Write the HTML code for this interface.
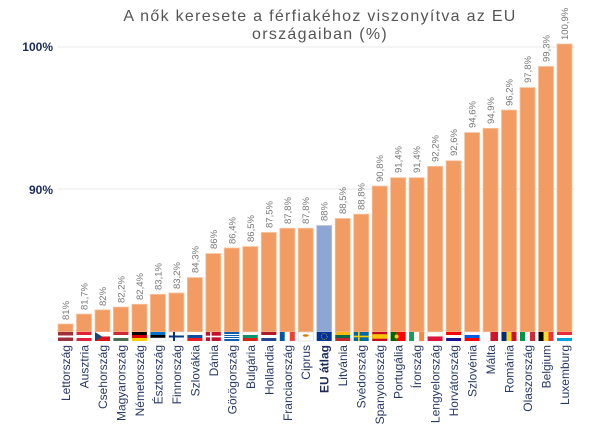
<!DOCTYPE html>
<html><head><meta charset="utf-8"><style>
html,body{margin:0;padding:0;background:#fff;}
svg{display:block;font-family:"Liberation Sans",sans-serif;}
.v{font-size:9.5px;fill:#777;}
.c{font-size:12px;fill:#2a3a66;}
</style></head><body>
<svg width="605" height="426" viewBox="0 0 605 426">
<text x="320" y="21" text-anchor="middle" font-size="16" fill="#555" letter-spacing="1.3">A nők keresete a férfiakéhoz viszonyítva az EU</text>
<text x="320" y="39" text-anchor="middle" font-size="16" fill="#555" letter-spacing="1.3">országaiban (%)</text>
<line x1="58" y1="47" x2="575" y2="47" stroke="#e8e8e8"/>
<line x1="58" y1="189" x2="575" y2="189" stroke="#e8e8e8"/>
<text x="53" y="51" text-anchor="end" font-size="12" font-weight="bold" fill="#1b2a5a">100%</text>
<text x="53" y="194" text-anchor="end" font-size="12" font-weight="bold" fill="#1b2a5a">90%</text>
<g fill="#f29b63" stroke="#f7c09a" stroke-width="0.8">
<rect x="58" y="324" width="15" height="8"/>
<rect x="76.5" y="314.1" width="15" height="17.9"/>
<rect x="95" y="309.9" width="15" height="22.1"/>
<rect x="113.4" y="307.1" width="15" height="24.9"/>
<rect x="131.9" y="304.3" width="15" height="27.7"/>
<rect x="150.4" y="294.4" width="15" height="37.6"/>
<rect x="168.9" y="293" width="15" height="39"/>
<rect x="187.4" y="277.6" width="15" height="54.4"/>
<rect x="205.8" y="253.6" width="15" height="78.4"/>
<rect x="224.3" y="248" width="15" height="84"/>
<rect x="242.8" y="246.6" width="15" height="85.4"/>
<rect x="261.3" y="232.5" width="15" height="99.5"/>
<rect x="279.8" y="228.3" width="15" height="103.7"/>
<rect x="298.2" y="228.3" width="15" height="103.7"/>
<rect x="316.7" y="225.5" width="15" height="106.5" fill="#8ea6d3" stroke="#b7c7e4"/>
<rect x="335.2" y="218.5" width="15" height="113.5"/>
<rect x="353.7" y="214.2" width="15" height="117.8"/>
<rect x="372.2" y="186.1" width="15" height="145.9"/>
<rect x="390.6" y="177.7" width="15" height="154.3"/>
<rect x="409.1" y="177.7" width="15" height="154.3"/>
<rect x="427.6" y="166.4" width="15" height="165.6"/>
<rect x="446.1" y="160.8" width="15" height="171.2"/>
<rect x="464.6" y="132.6" width="15" height="199.4"/>
<rect x="483" y="128.4" width="15" height="203.6"/>
<rect x="501.5" y="110.1" width="15" height="221.9"/>
<rect x="520" y="87.6" width="15" height="244.4"/>
<rect x="538.5" y="66.5" width="15" height="265.5"/>
<rect x="557" y="44" width="15" height="288"/>
</g>
<g>
<rect x="58" y="332" width="15" height="9" fill="#9e3039"/><rect x="58" y="335.5" width="15" height="2" fill="#fff"/>
<rect x="76.5" y="332" width="15" height="9" fill="#e0223a"/><rect x="76.5" y="335" width="15" height="3" fill="#fff"/>
<rect x="95" y="332" width="15" height="4.5" fill="#fff"/><rect x="95" y="336.5" width="15" height="4.5" fill="#d7141a"/><polygon points="95,332 102,336.5 95,341" fill="#11457e"/>
<rect x="113.4" y="332" width="15" height="3" fill="#ce2939"/><rect x="113.4" y="335" width="15" height="3" fill="#fff"/><rect x="113.4" y="338" width="15" height="3" fill="#477050"/>
<rect x="131.9" y="332" width="15" height="3" fill="#000"/><rect x="131.9" y="335" width="15" height="3" fill="#dd0000"/><rect x="131.9" y="338" width="15" height="3" fill="#ffce00"/>
<rect x="150.4" y="332" width="15" height="3" fill="#0072ce"/><rect x="150.4" y="335" width="15" height="3" fill="#000"/><rect x="150.4" y="338" width="15" height="3" fill="#fff" stroke="#ddd" stroke-width=".5"/>
<rect x="168.9" y="332" width="15" height="9" fill="#fff" stroke="#ddd" stroke-width=".5"/><rect x="168.9" y="335.5" width="15" height="2" fill="#003580"/><rect x="173" y="332" width="2" height="9" fill="#003580"/>
<rect x="187.4" y="332" width="15" height="3" fill="#fff"/><rect x="187.4" y="335" width="15" height="3" fill="#0b4ea2"/><rect x="187.4" y="338" width="15" height="3" fill="#ee1c25"/>
<rect x="205.8" y="332" width="15" height="9" fill="#c8102e"/><rect x="205.8" y="335.7" width="15" height="1.6" fill="#fff"/><rect x="210" y="332" width="1.6" height="9" fill="#fff"/>
<rect x="224.3" y="332" width="15" height="9" fill="#0d5eaf"/><rect x="224.3" y="334" width="15" height="1" fill="#fff"/><rect x="224.3" y="336" width="15" height="1" fill="#fff"/><rect x="224.3" y="338" width="15" height="1" fill="#fff"/>
<rect x="242.8" y="332" width="15" height="3" fill="#fff" stroke="#ddd" stroke-width=".5"/><rect x="242.8" y="335" width="15" height="3" fill="#00966e"/><rect x="242.8" y="338" width="15" height="3" fill="#d62612"/>
<rect x="261.3" y="332" width="15" height="3" fill="#ae1c28"/><rect x="261.3" y="335" width="15" height="3" fill="#fff"/><rect x="261.3" y="338" width="15" height="3" fill="#21468b"/>
<rect x="279.8" y="332" width="5" height="9" fill="#0055a4"/><rect x="284.8" y="332" width="5" height="9" fill="#fff"/><rect x="289.8" y="332" width="5" height="9" fill="#ef4135"/>
<rect x="298.2" y="332" width="15" height="9" fill="#fff" stroke="#ccc" stroke-width=".5"/><ellipse cx="305.7" cy="335.5" rx="3" ry="1.3" fill="#d57800"/>
<rect x="316.7" y="332" width="15" height="9" fill="#003399"/><circle cx="324.2" cy="336.5" r="3" fill="none" stroke="#ffcc00" stroke-width=".6" stroke-dasharray="1 1"/>
<rect x="335.2" y="332" width="15" height="3" fill="#fdb913"/><rect x="335.2" y="335" width="15" height="3" fill="#006a44"/><rect x="335.2" y="338" width="15" height="3" fill="#c1272d"/>
<rect x="353.7" y="332" width="15" height="9" fill="#006aa7"/><rect x="353.7" y="335.7" width="15" height="1.6" fill="#fecc00"/><rect x="358" y="332" width="1.6" height="9" fill="#fecc00"/>
<rect x="372.2" y="332" width="15" height="9" fill="#c60b1e"/><rect x="372.2" y="334.2" width="15" height="4.5" fill="#ffc400"/>
<rect x="390.6" y="332" width="6" height="9" fill="#006600"/><rect x="396.6" y="332" width="9" height="9" fill="#ff0000"/><circle cx="396.6" cy="336.5" r="2" fill="#ffcc00"/>
<rect x="409.1" y="332" width="5" height="9" fill="#169b62"/><rect x="414.1" y="332" width="5" height="9" fill="#fff"/><rect x="419.1" y="332" width="5" height="9" fill="#ff883e"/>
<rect x="427.6" y="332" width="15" height="4.5" fill="#fff" stroke="#ddd" stroke-width=".5"/><rect x="427.6" y="336.5" width="15" height="4.5" fill="#dc143c"/>
<rect x="446.1" y="332" width="15" height="3" fill="#ff0000"/><rect x="446.1" y="335" width="15" height="3" fill="#fff"/><rect x="446.1" y="338" width="15" height="3" fill="#171796"/>
<rect x="464.6" y="332" width="15" height="3" fill="#fff" stroke="#ddd" stroke-width=".5"/><rect x="464.6" y="335" width="15" height="3" fill="#005ce5"/><rect x="464.6" y="338" width="15" height="3" fill="#ff0000"/>
<rect x="483" y="332" width="7.5" height="9" fill="#fff" stroke="#ddd" stroke-width=".5"/><rect x="490.5" y="332" width="7.5" height="9" fill="#cf142b"/>
<rect x="501.5" y="332" width="5" height="9" fill="#002b7f"/><rect x="506.5" y="332" width="5" height="9" fill="#fcd116"/><rect x="511.5" y="332" width="5" height="9" fill="#ce1126"/>
<rect x="520" y="332" width="5" height="9" fill="#009246"/><rect x="525" y="332" width="5" height="9" fill="#fff"/><rect x="530" y="332" width="5" height="9" fill="#ce2b37"/>
<rect x="538.5" y="332" width="5" height="9" fill="#000"/><rect x="543.5" y="332" width="5" height="9" fill="#fdda24"/><rect x="548.5" y="332" width="5" height="9" fill="#ef3340"/>
<rect x="557" y="332" width="15" height="3" fill="#ed2939"/><rect x="557" y="335" width="15" height="3" fill="#fff"/><rect x="557" y="338" width="15" height="3" fill="#00a1de"/>
</g>
<g class="v">
<text transform="translate(69,320) rotate(-90)">81%</text>
<text transform="translate(87.5,310) rotate(-90)">81,7%</text>
<text transform="translate(106,306) rotate(-90)">82%</text>
<text transform="translate(124.4,303) rotate(-90)">82,2%</text>
<text transform="translate(142.9,300) rotate(-90)">82,4%</text>
<text transform="translate(161.4,290) rotate(-90)">83,1%</text>
<text transform="translate(179.9,289) rotate(-90)">83,2%</text>
<text transform="translate(198.4,273) rotate(-90)">84,3%</text>
<text transform="translate(216.8,249) rotate(-90)">86%</text>
<text transform="translate(235.3,244) rotate(-90)">86,4%</text>
<text transform="translate(253.8,242) rotate(-90)">86,5%</text>
<text transform="translate(272.3,228) rotate(-90)">87,5%</text>
<text transform="translate(290.8,224) rotate(-90)">87,8%</text>
<text transform="translate(309.2,224) rotate(-90)">87,8%</text>
<text transform="translate(327.7,221) rotate(-90)">88%</text>
<text transform="translate(346.2,214) rotate(-90)">88,5%</text>
<text transform="translate(364.7,210) rotate(-90)">88,8%</text>
<text transform="translate(383.2,182) rotate(-90)">90,8%</text>
<text transform="translate(401.6,173) rotate(-90)">91,4%</text>
<text transform="translate(420.1,173) rotate(-90)">91,4%</text>
<text transform="translate(438.6,162) rotate(-90)">92,2%</text>
<text transform="translate(457.1,156) rotate(-90)">92,6%</text>
<text transform="translate(475.6,128) rotate(-90)">94,6%</text>
<text transform="translate(494,124) rotate(-90)">94,9%</text>
<text transform="translate(512.5,106) rotate(-90)">96,2%</text>
<text transform="translate(531,83) rotate(-90)">97,8%</text>
<text transform="translate(549.5,62) rotate(-90)">99,3%</text>
<text transform="translate(568,40) rotate(-90)">100,9%</text>
</g>
<g class="c" text-anchor="end">
<text transform="translate(70,345) rotate(-90)">Lettország</text>
<text transform="translate(88.5,345) rotate(-90)">Ausztria</text>
<text transform="translate(107,345) rotate(-90)">Csehország</text>
<text transform="translate(125.4,345) rotate(-90)">Magyarország</text>
<text transform="translate(143.9,345) rotate(-90)">Németország</text>
<text transform="translate(162.4,345) rotate(-90)">Észtország</text>
<text transform="translate(180.9,345) rotate(-90)">Finnország</text>
<text transform="translate(199.4,345) rotate(-90)">Szlovákia</text>
<text transform="translate(217.8,345) rotate(-90)">Dánia</text>
<text transform="translate(236.3,345) rotate(-90)">Görögország</text>
<text transform="translate(254.8,345) rotate(-90)">Bulgária</text>
<text transform="translate(273.3,345) rotate(-90)">Hollandia</text>
<text transform="translate(291.8,345) rotate(-90)">Franciaország</text>
<text transform="translate(310.2,345) rotate(-90)">Ciprus</text>
<text transform="translate(328.7,345) rotate(-90)" font-weight="bold" fill="#1b2a5a">EU átlag</text>
<text transform="translate(347.2,345) rotate(-90)">Litvánia</text>
<text transform="translate(365.7,345) rotate(-90)">Svédország</text>
<text transform="translate(384.2,345) rotate(-90)">Spanyolország</text>
<text transform="translate(402.6,345) rotate(-90)">Portugália</text>
<text transform="translate(421.1,345) rotate(-90)">Írország</text>
<text transform="translate(439.6,345) rotate(-90)">Lengyelország</text>
<text transform="translate(458.1,345) rotate(-90)">Horvátország</text>
<text transform="translate(476.6,345) rotate(-90)">Szlovénia</text>
<text transform="translate(495,345) rotate(-90)">Málta</text>
<text transform="translate(513.5,345) rotate(-90)">Románia</text>
<text transform="translate(532,345) rotate(-90)">Olaszország</text>
<text transform="translate(550.5,345) rotate(-90)">Belgium</text>
<text transform="translate(569,345) rotate(-90)">Luxemburg</text>
</g>
</svg>
</body></html>
